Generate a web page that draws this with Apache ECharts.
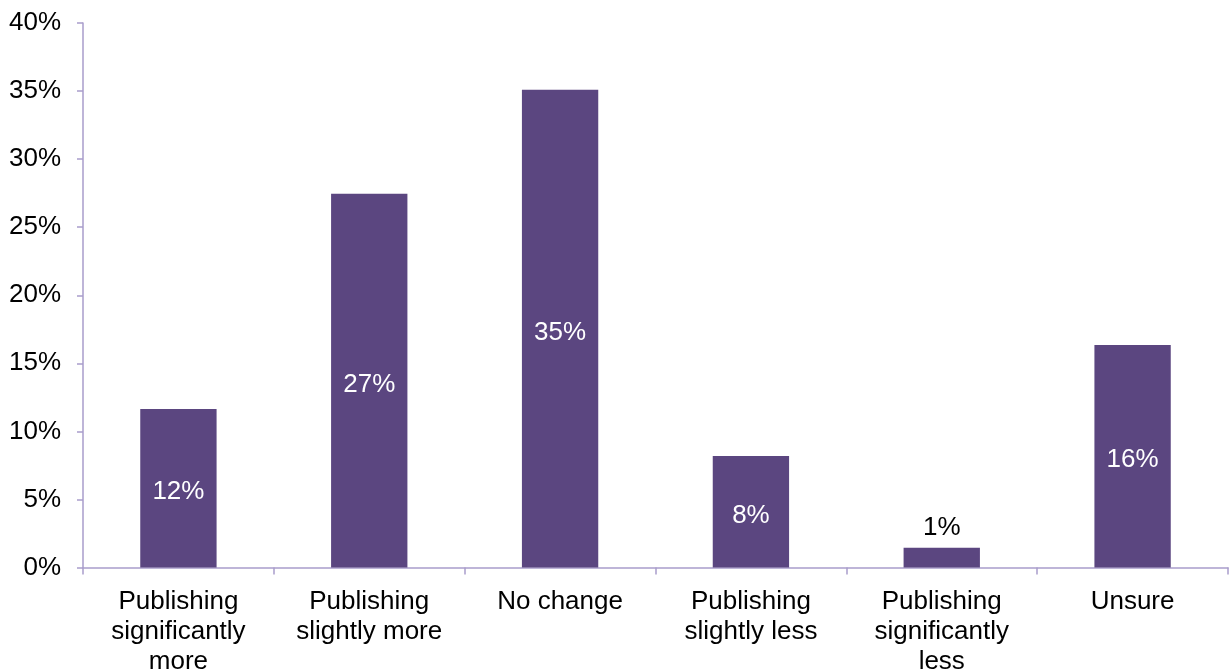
<!DOCTYPE html>
<html>
<head>
<meta charset="utf-8">
<script src="https://cdn.jsdelivr.net/npm/echarts@6/dist/echarts.min.js"></script>
<style>
html,body{margin:0;padding:0;background:#fff;}
#chart{width:1229px;height:671px;}
</style>
</head>
<body>
<div id="chart"></div>
<script>
const categories = ['Publishing\nsignificantly\nmore', 'Publishing\nslightly more', 'No change', 'Publishing\nslightly less', 'Publishing\nsignificantly\nless', 'Unsure'];
const values = [11.65, 27.45, 35.1, 8.2, 1.45, 16.35];
const yTicks = { min: 0, max: 40, interval: 5 };

const FONT = '"Liberation Sans", Arial, sans-serif';
const BAR = '#5B4680';
const AXIS = '#A99DCB';

const chart = echarts.init(document.getElementById('chart'), null, { renderer: 'canvas' });
chart.setOption({
  animation: false,
  backgroundColor: '#fff',
  grid: { left: 83, right: 1, top: 23, bottom: 103.5, containLabel: false, outerBoundsMode: 'none' },
  xAxis: {
    type: 'category',
    data: categories,
    axisLine: { lineStyle: { color: AXIS, width: 1.5 } },
    axisTick: { show: true, length: 7, alignWithLabel: false, lineStyle: { color: AXIS, width: 1.5 } },
    axisLabel: { color: '#000', fontFamily: FONT, fontSize: 26, lineHeight: 30, margin: 19, interval: 0 }
  },
  yAxis: {
    type: 'value',
    min: yTicks.min, max: yTicks.max, interval: yTicks.interval,
    axisLine: { show: true, lineStyle: { color: AXIS, width: 1.5 } },
    axisTick: { show: true, length: 6, lineStyle: { color: AXIS, width: 1.5 } },
    splitLine: { show: false },
    axisLabel: { color: '#000', fontFamily: FONT, fontSize: 26, margin: 22, formatter: v => v + '%' }
  },
  series: [{
    type: 'bar',
    barWidth: '40%',
    itemStyle: { color: BAR },
    data: values.map(v => ({
      value: v,
      label: v < 3
        ? { show: true, position: 'top', distance: 7, color: '#000' }
        : { show: true, position: 'inside', offset: [0, 4], color: '#fff' }
    })),
    label: {
      fontFamily: FONT, fontSize: 26,
      formatter: p => Math.round(p.value) + '%'
    }
  }]
});
</script>
</body>
</html>
